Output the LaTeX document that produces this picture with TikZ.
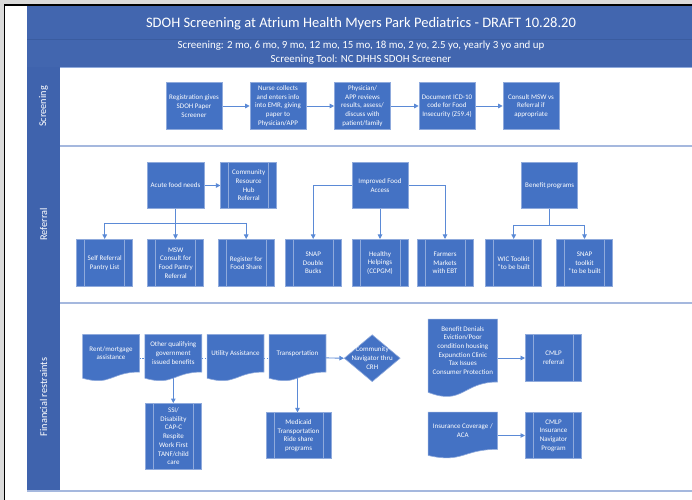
\documentclass[tikz,border=0pt]{standalone}
\usepackage{fontspec}
\setmainfont{Carlito}
\usetikzlibrary{arrows.meta,shapes.geometric,calc}

\definecolor{hdrblue}{HTML}{4266AF}
\definecolor{hdrline}{HTML}{3A5CA0}
\definecolor{lanecol}{HTML}{3F63AD}
\definecolor{boxblue}{HTML}{4472C4}
\definecolor{boxedge}{HTML}{8FAADC}
\definecolor{linkblue}{HTML}{5B8AD6}
\definecolor{laneline}{HTML}{A5B8DE}
\definecolor{framegrey}{HTML}{DADADA}

\newcommand\bxfont{\fontsize{7bp}{8.7bp}\selectfont}
\newcommand\lanefont{\fontsize{10.3bp}{11bp}\selectfont}

\pgfdeclarelayer{back}
\pgfdeclarelayer{links}
\pgfdeclarelayer{shapes}
\pgfsetlayers{back,links,shapes,main}

% office-style document outline (wavy bottom) around a rectangle node
\newcommand\docshape[1]{%
  \path[fill=boxblue,draw=boxedge,line width=0.6bp]
    (#1.north west) -- (#1.north east)
    -- ($(#1.north east)!0.802!(#1.south east)$)
    .. controls ($(#1.north)!0.802!(#1.south)$) and ($(#1.north)!1.107!(#1.south)$)
    .. ($(#1.north west)!0.934!(#1.south west)$) -- cycle;}

\tikzset{
  box/.style={rectangle, fill=boxblue, draw=boxedge, line width=0.6bp,
    minimum width=56bp, minimum height=46.5bp, inner sep=1bp,
    align=center, text=white, font=\bxfont},
  proc/.style={box, path picture={
    \draw[boxedge, line width=0.6bp]
      ([xshift=8bp]path picture bounding box.north west) --
      ([xshift=8bp]path picture bounding box.south west)
      ([xshift=-8bp]path picture bounding box.north east) --
      ([xshift=-8bp]path picture bounding box.south east);}},
  docframe/.style={rectangle, draw=none, inner sep=0,
    minimum width=56.5bp, minimum height=46.4bp},
  lbl/.style={inner sep=0, align=center, text=white, font=\bxfont},
  decide/.style={diamond, fill=boxblue, draw=boxedge, line width=0.6bp,
    inner sep=0, minimum width=56bp, minimum height=47bp},
  link/.style={draw=linkblue, line width=0.9bp},
  arr/.style={link, -{Triangle[length=4.5bp,width=4.5bp]}},
  dotlink/.style={draw=linkblue, line width=0.6bp, dash pattern=on 1.5bp off 1.5bp},
  lanelbl/.style={rotate=90, text=white, font=\lanefont, inner sep=0},
}

\begin{document}
\begin{tikzpicture}[x=1bp,y=-1bp]
\useasboundingbox (0,0) rectangle (692,500);

% ---------- background: frame, header, swimlanes ----------
\begin{pgfonlayer}{back}
  \fill[white] (0,0) rectangle (692,500);
  \fill[framegrey] (0,0) rectangle (692,4);
  \fill[framegrey] (0,0) rectangle (3.5,500);
  \draw[black, line width=1.6bp] (4.5,500) -- (4.5,5) -- (692,5);
  % header bands
  \fill[hdrblue] (27,6) rectangle (692,67);
  \draw[hdrline, line width=0.8bp] (27,39) -- (692,39);
  \draw[boxedge, line width=0.8bp] (60,67) -- (692,67);
  % lane label column
  \fill[lanecol] (27,67) rectangle (60,491);
  % lane separators
  \draw[laneline, line width=1.3bp] (60,146) -- (692,146);
  \draw[laneline, line width=1.3bp] (60,303) -- (692,303);
  \draw[laneline, line width=1.3bp] (27,491) -- (692,491);
\end{pgfonlayer}

\node[text=white, font=\fontsize{14.5bp}{16bp}\selectfont, inner sep=0] (title) at (361,23.3)
  {SDOH Screening at Atrium Health Myers Park Pediatrics - DRAFT 10.28.20};
\node[text=white, font=\fontsize{10.9bp}{14bp}\selectfont, align=center, inner sep=0] (subtitle) at (361,53)
  {Screening: 2 mo, 6 mo, 9 mo, 12 mo, 15 mo, 18 mo, 2 yo, 2.5 yo, yearly 3 yo and up\\
   Screening Tool: NC DHHS SDOH Screener};

\node[lanelbl] (lane1) at (43.5,106.5) {Screening};
\node[lanelbl] (lane2) at (43.5,224.5) {Referral};
\node[lanelbl] (lane3) at (43.5,397) {Financial restraints};

% ---------- Screening lane ----------
\node[box] (s1) at (194,106) {Registration gives\\SDOH Paper\\Screener};
\node[box] (s2) at (278,106) {Nurse collects\\and enters info\\into EMR, giving\\paper to\\Physician/APP};
\node[box] (s3) at (362.5,106) {Physician/\\APP reviews\\results, assess/\\discuss with\\patient/family};
\node[box] (s4) at (447,106) {Document ICD-10\\code for Food\\Insecurity (Z59.4)};
\node[box] (s5) at (531,106) {Consult MSW vs\\Referral if\\appropriate};

% ---------- Referral lane ----------
\node[box, minimum width=57bp] (acute) at (175.5,185.5) {Acute food needs};
\node[proc] (crh) at (248.7,185.5) {Community\\Resource\\Hub\\Referral};
\node[box] (ifa) at (380,185.5) {Improved Food\\Access};
\node[box] (benefit) at (549.7,185.5) {Benefit programs};

\node[proc, minimum height=47.4bp] (self) at (104.7,263) {Self Referral\\Pantry List};
\node[proc, minimum height=47.4bp] (msw) at (175.7,263) {MSW\\Consult for\\Food Pantry\\Referral};
\node[proc, minimum height=47.4bp] (reg) at (246.2,263) {Register for\\Food Share};
\node[proc, minimum height=47.4bp] (snapdb) at (313.2,263) {SNAP\\Double\\Bucks};
\node[proc, minimum height=47.4bp] (healthy) at (380,263) {Healthy\\Helpings\\(CCPGM)};
\node[proc, minimum height=47.4bp] (farm) at (445,263) {Farmers\\Markets\\with EBT};
\node[proc, minimum height=47.4bp] (wic) at (513.7,263) {WIC Toolkit\\*to be built};
\node[proc, minimum height=47.4bp] (snapt) at (584.5,263) {SNAP\\toolkit\\*to be built};

% ---------- Financial restraints lane ----------
\node[docframe] (rent) at (111,357.9) {};
\node[docframe] (other) at (173.3,357.9) {};
\node[docframe] (util) at (235.5,357.9) {};
\node[docframe] (transp) at (297.5,357.9) {};
\node[decide] (nav) at (372.2,358.2) {};
\node[proc, minimum width=55.6bp, minimum height=65.7bp] (ssi) at (173.5,436.2)
  {SSI/\\Disability\\CAP-C\\Respite\\Work First\\TANF/child\\care};
\node[proc, minimum width=65bp, minimum height=46bp] (medicaid) at (298.5,435.7)
  {Medicaid\\Transportation\\Ride share\\programs};
\node[docframe, minimum width=69bp, minimum height=78bp] (denials) at (462.8,358.3) {};
\node[proc, minimum width=56.4bp] (cmlp) at (553.5,358) {CMLP\\referral};
\node[docframe, minimum width=69bp, minimum height=46bp] (insur) at (462.8,435.3) {};
\node[proc, minimum width=56.4bp] (cmlpins) at (553.5,435.5) {CMLP\\Insurance\\Navigator\\Program};

\begin{pgfonlayer}{shapes}
  \docshape{rent}\docshape{other}\docshape{util}\docshape{transp}
  \docshape{denials}\docshape{insur}
\end{pgfonlayer}

\node[lbl] (rent-t) at ($(rent.north)!0.4!(rent.south)$) {Rent/mortgage\\assistance};
\node[lbl] (other-t) at ($(other.north)!0.4!(other.south)$) {Other qualifying\\government\\issued benefits};
\node[lbl] (util-t) at ($(util.north)!0.4!(util.south)$) {Utility Assistance};
\node[lbl] (transp-t) at ($(transp.north)!0.4!(transp.south)$) {Transportation};
\node[lbl] (nav-t) at (nav) {Community\\Navigator thru\\CRH};
\node[lbl] (denials-t) at ($(denials.north)!0.4!(denials.south)$)
  {Benefit Denials\\Eviction/Poor\\condition housing\\Expunction Clinic\\Tax Issues\\Consumer Protection};
\node[lbl] (insur-t) at ($(insur.north)!0.4!(insur.south)$) {Insurance Coverage /\\ACA};

% ---------- connectors ----------
\begin{pgfonlayer}{links}
  % screening flow
  \draw[arr] (s1) -- (s2);
  \draw[arr] (s2) -- (s3);
  \draw[arr] (s3) -- (s4);
  \draw[arr] (s4) -- (s5);
  % acute food needs
  \draw[arr] (acute) -- (crh);
  \coordinate (fork1) at ([yshift=16bp]msw.north);
  \draw[arr] (acute.south) -- (acute.south |- msw.north);
  \draw[link] (acute.south |- fork1) -- (fork1 -| self.north);
  \draw[arr] (fork1 -| self.north) -- (self.north);
  \draw[link] (acute.south |- fork1) -- (fork1 -| reg.north);
  \draw[arr] (fork1 -| reg.north) -- (reg.north);
  % improved food access
  \draw[arr] (ifa.west) -| (snapdb.north);
  \draw[arr] (ifa.south) -- (ifa.south |- healthy.north);
  \draw[arr] (ifa.east) -| (farm.north);
  % benefit programs
  \coordinate (fork2) at ([yshift=14bp]wic.north);
  \draw[link] (benefit.south) -- (benefit.south |- fork2);
  \draw[link] (fork2 -| wic.north) -- (fork2 -| snapt.north);
  \draw[arr] (fork2 -| wic.north) -- (wic.north);
  \draw[arr] (fork2 -| snapt.north) -- (snapt.north);
  % financial restraints
  \draw[dotlink] (rent.east) -- (other.west);
  \draw[dotlink] (other.east) -- (util.west);
  \draw[dotlink] (util.east) -- (transp.west);
  \draw[arr] (transp.east) -- (nav.west);
  \draw[arr] (other.center) -- (other.center |- ssi.north);
  \draw[arr] (transp.center) -- (transp.center |- medicaid.north);
  \draw[arr] (denials.east |- cmlp.west) -- (cmlp.west);
  \draw[arr] (insur.east |- cmlpins.west) -- (cmlpins.west);
\end{pgfonlayer}
\end{tikzpicture}
\end{document}
